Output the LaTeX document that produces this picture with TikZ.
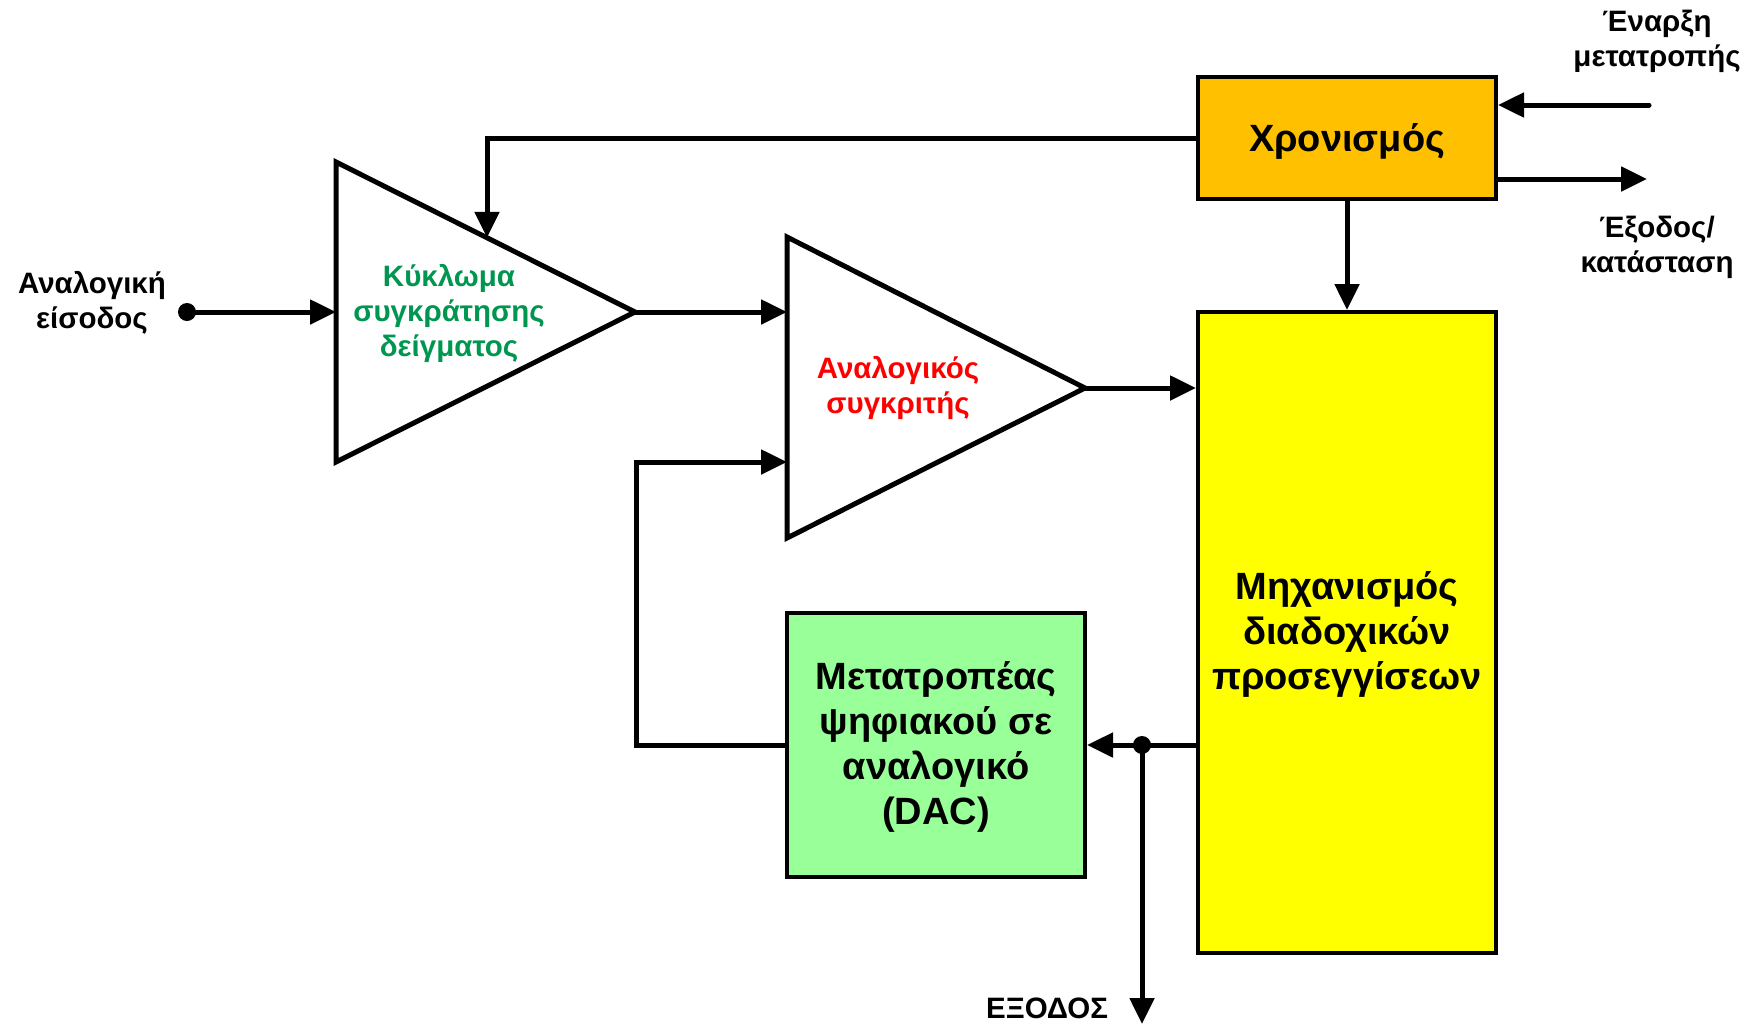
\documentclass[tikz,border=0pt]{standalone}
\usepackage{fontspec}
\setmainfont{Liberation Sans}
\usetikzlibrary{arrows.meta}
\definecolor{timorange}{HTML}{FFC000}
\definecolor{saryellow}{HTML}{FFFF00}
\definecolor{dacgreen}{HTML}{99FF99}
\definecolor{shgreen}{HTML}{009650}
\begin{document}
\begin{tikzpicture}[x=1pt,y=-1pt,
  conn/.style={line width=5pt},
  arr/.style={conn,-{Triangle[length=26pt,width=24pt]}},
  blk/.style={draw,line width=4pt,font=\bfseries\fontsize{38}{45}\selectfont,align=center,inner sep=0pt},
  tri/.style={draw,line width=5pt,line join=miter,fill=white},
  lbl/.style={font=\bfseries\fontsize{29.5}{35}\selectfont,align=center,inner sep=0pt},
  dot/.style={circle,fill=black,inner sep=0pt,minimum size=18pt}
]
\useasboundingbox (0,0) rectangle (1747,1026);

% blocks
\node[blk,fill=timorange,minimum width=298pt,minimum height=122pt] (tim) at (1347,138) {};
\node[font=\bfseries\fontsize{38}{45}\selectfont] (timtext) at (1347,141) {Χρονισμός};
\node[blk,fill=saryellow,minimum width=298pt,minimum height=641pt] (sar) at (1347,632.5) {};
\node[font=\bfseries\fontsize{38}{45}\selectfont,align=center] (sartext) at (1347,634) {Μηχανισμός\\διαδοχικών\\προσεγγίσεων};
\node[blk,fill=dacgreen,minimum width=298pt,minimum height=264pt] (dac) at (936,745) {};
\node[font=\bfseries\fontsize{38}{45}\selectfont,align=center] (dactext) at (936,747) {Μετατροπέας\\ψηφιακού σε\\αναλογικό\\(DAC)};

% triangles
\draw[tri] (336,162) -- (635,312) -- (336,462) -- cycle;
\coordinate (t1in) at (336,312);
\coordinate (t1apex) at (635,312);
\coordinate (t1top) at (487,237.8);
\draw[tri] (787,237) -- (1085,388) -- (787,538) -- cycle;
\coordinate (t2in1) at (787,312);
\coordinate (t2in2) at (787,462);
\coordinate (t2apex) at (1085,388);

\node[lbl,text=shgreen] (shtext) at (449,313) {Κύκλωμα\\συγκράτησης\\δείγματος};
\node[lbl,text=red] (cmptext) at (898,388) {Αναλογικός\\συγκριτής};

% input
\node[dot] (in) at (187,312) {};
\node[lbl] (inlbl) at (92,303) {Αναλογική\\είσοδος};
\draw[arr] (in.center) -- (t1in);

% connectors
\draw[arr] (tim.west) -| (t1top);
\draw[arr] (t1apex) -- (t2in1);
\draw[arr] (t2apex) -- (sar.west |- t2apex);
\draw[arr] (tim.south) -- (sar.north);

\coordinate (startend) at (1649,105);
\draw[arr,line cap=round] (startend) -- (tim.east |- startend);
\node[lbl] (startlbl) at (1657,41) {Έναρξη\\μετατροπής};

\coordinate (statusend) at (1647,179);
\draw[arr] (tim.east |- statusend) -- (statusend);
\node[lbl] (statuslbl) at (1657,247) {Έξοδος/\\κατάσταση};

\node[dot] (jn) at (1142,745) {};
\draw[arr] (dac.east -| sar.west) -- (dac.east);
\coordinate (outend) at (1142,1024);
\draw[arr] (jn.center) -- (outend);
\node[lbl] (outlbl) at (1047,1008) {ΕΞΟΔΟΣ};

\coordinate (fbcorner) at (636,745);
\draw[arr] (dac.west) -- (fbcorner) |- (t2in2);
\end{tikzpicture}
\end{document}
